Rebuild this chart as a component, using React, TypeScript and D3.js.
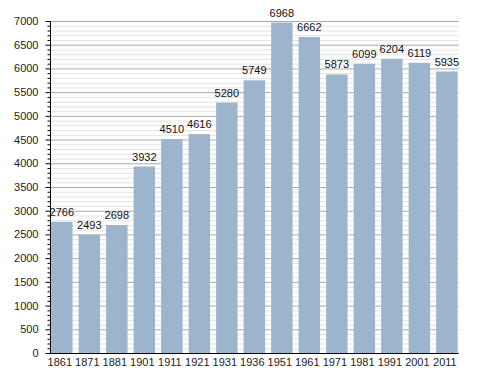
import { useEffect, useRef } from "react";
import * as d3 from "d3";

const years = ["1861", "1871", "1881", "1901", "1911", "1921", "1931", "1936", "1951", "1961", "1971", "1981", "1991", "2001", "2011"];
const population = [2766, 2493, 2698, 3932, 4510, 4616, 5280, 5749, 6968, 6662, 5873, 6099, 6204, 6119, 5935];
const yTicks = d3.range(0, 7001, 500);
const yMinor = d3.range(0, 7001, 100);

const App = () => {
    const svgRef = useRef<SVGSVGElement>(null);
    useEffect(() => {
        const w = 488;
        const h = 373;
        const left = 50;
        const right = 458.7;
        const top = 21;
        const bottom = 353;
        const font = "'Liberation Sans', Arial, sans-serif";

        const svg = d3.select(svgRef.current).attr("width", w).attr("height", h);
        svg.selectAll("*").remove();

        const x = d3.scaleBand().domain(years).range([left, right]).paddingInner(0.22).paddingOuter(0.04);
        const y = d3.scaleLinear().domain([0, 7000]).range([bottom, top]);

        // minor grid
        svg.append("g")
            .selectAll("line")
            .data(yMinor.filter((d) => d % 500 !== 0))
            .join("line")
            .attr("x1", left).attr("x2", right)
            .attr("y1", (d) => y(d) + 0.5).attr("y2", (d) => y(d) + 0.5)
            .attr("stroke", "#e3e3e3");
        // major grid
        svg.append("g")
            .selectAll("line")
            .data(yTicks.filter((d) => d > 0))
            .join("line")
            .attr("x1", left).attr("x2", right)
            .attr("y1", (d) => y(d) + 0.5).attr("y2", (d) => y(d) + 0.5)
            .attr("stroke", "#aaaaaa");

        svg.append("g")
            .selectAll("rect")
            .data(population)
            .join("rect")
            .attr("x", (d, i) => x(years[i])!)
            .attr("width", x.bandwidth())
            .attr("y", (d) => y(d))
            .attr("height", (d) => bottom - y(d))
            .attr("fill", "#9db4cd");

        svg.append("g")
            .selectAll("text")
            .data(population)
            .join("text")
            .attr("x", (d, i) => x(years[i])! + x.bandwidth() / 2)
            .attr("y", (d) => y(d) - 6)
            .attr("text-anchor", "middle")
            .attr("font-family", font)
            .attr("font-size", 11)
            .attr("fill", "#111")
            .text((d) => d);

        // left axis with minor ticks
        const yAxis = svg.append("g").attr("transform", `translate(${left + 0.5},0)`);
        yAxis.append("g")
            .selectAll("line")
            .data(yMinor)
            .join("line")
            .attr("x1", (d) => (d % 500 === 0 ? -5 : -3)).attr("x2", 0)
            .attr("y1", (d) => y(d) + 0.5).attr("y2", (d) => y(d) + 0.5)
            .attr("stroke", "#000");
        yAxis.append("line").attr("y1", top).attr("y2", bottom + 0.5).attr("stroke", "#000");
        yAxis.append("g")
            .selectAll("text")
            .data(yTicks)
            .join("text")
            .attr("x", -12)
            .attr("y", (d) => y(d) + 4)
            .attr("text-anchor", "end")
            .attr("font-family", font)
            .attr("font-size", 11)
            .attr("fill", "#222")
            .text((d) => d);

        const xAxis = d3.axisBottom(x).tickSize(0).tickPadding(5);
        const gx = svg.append("g").attr("transform", `translate(0,${bottom + 0.5})`).call(xAxis);
        gx.select(".domain").attr("d", `M${left},0H${right}`).attr("stroke", "#000");
        gx.selectAll("text").attr("dx", -2).attr("font-family", font).attr("font-size", 11).attr("fill", "#222");
    }, []);

    return <svg ref={svgRef} style={{ position: "absolute", left: 0, top: 0, display: "block", background: "#fff" }}></svg>;
};

export default App;
